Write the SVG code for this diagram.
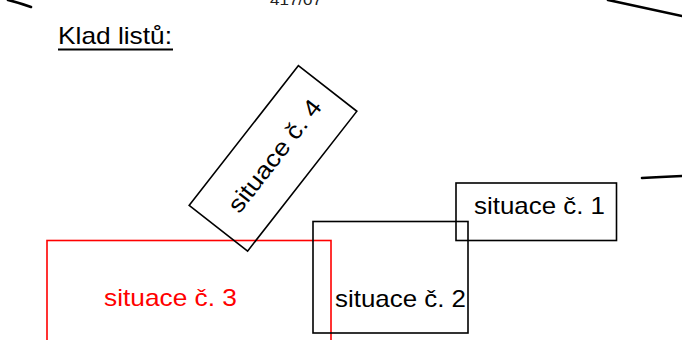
<svg xmlns="http://www.w3.org/2000/svg" width="682" height="340" viewBox="0 0 682 340">
<style>
.box{fill:none;stroke:#000;stroke-width:1.6}
.red{fill:none;stroke:#ff0000;stroke-width:1.6}
.lbl{font-family:"Liberation Sans",Arial,sans-serif;font-size:24px;fill:#000}
.curve{fill:none;stroke:#000;stroke-width:2.6;stroke-linecap:round}
</style>
<rect width="682" height="340" fill="#fff"/>
<g id="marks">
<path class="curve" d="M8,0 Q20,3 31,7"/>
<path class="curve" d="M608,0 Q645,8 682,16"/>
<path class="curve" d="M642,178 Q660,177 682,176"/>
<text x="296" y="5" text-anchor="middle" font-family="Liberation Sans,Arial,sans-serif" font-size="15" textLength="52" lengthAdjust="spacingAndGlyphs" fill="#222">417/07</text>
</g>
<g id="title">
<text class="lbl" x="58" y="44" textLength="114" lengthAdjust="spacingAndGlyphs">Klad listů:</text>
<line x1="58" y1="49.5" x2="173" y2="49.5" stroke="#000" stroke-width="1.8"/>
</g>
<g id="node3">
<rect class="red" x="47" y="240.5" width="284" height="110"/>
<text class="lbl" x="104" y="306" textLength="133" lengthAdjust="spacingAndGlyphs" style="fill:#ff0000">situace č. 3</text>
</g>
<g id="node2">
<rect class="box" x="313" y="221.5" width="155" height="111.5"/>
<text class="lbl" x="335" y="307" textLength="131" lengthAdjust="spacingAndGlyphs">situace č. 2</text>
</g>
<g id="node1">
<rect class="box" x="456" y="183" width="160.5" height="57.5"/>
<text class="lbl" x="474" y="214" textLength="131" lengthAdjust="spacingAndGlyphs">situace č. 1</text>
</g>
<g id="node4" transform="translate(273,158.3) rotate(-52)">
<rect class="box" x="-88.7" y="-37.1" width="177.4" height="74.2"/>
<text class="lbl" x="3" y="8" text-anchor="middle" textLength="136" lengthAdjust="spacingAndGlyphs">situace č. 4</text>
</g>
<g id="connectors"/>
</svg>
